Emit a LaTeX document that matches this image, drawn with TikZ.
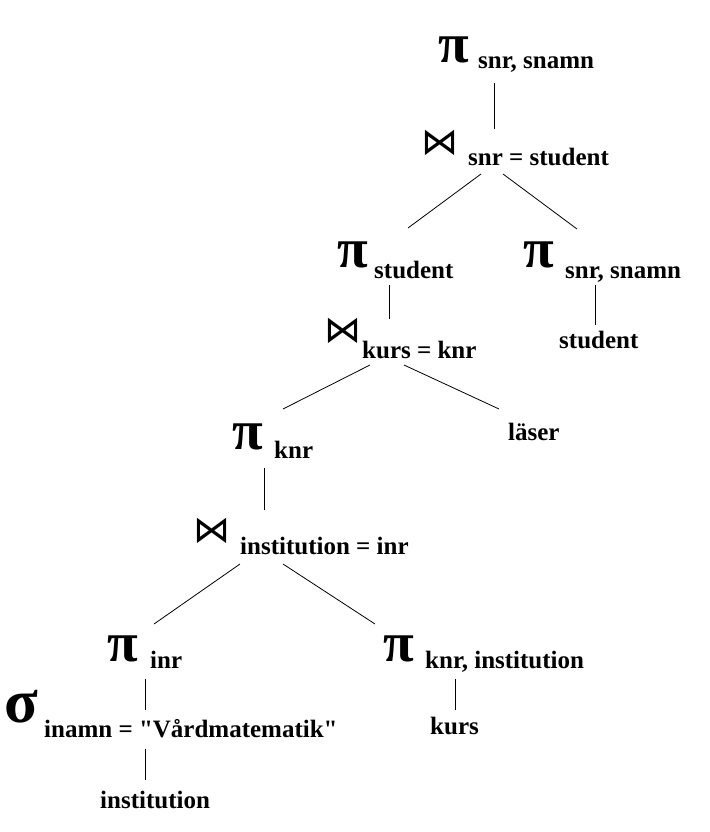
\documentclass[tikz,border=0pt]{standalone}
\usepackage{fontspec}
\setmainfont{Liberation Serif}[Ligatures=TeXOff]
\newfontfamily\symfont{Liberation Serif}
\newfontfamily\djv{DejaVu Sans}
\begin{document}
\begin{tikzpicture}[x=1pt,y=-1pt,
  lbl/.style={anchor=base west,inner sep=0pt,font=\fontsize{25}{30}\selectfont\bfseries},
  pisym/.style={anchor=base west,inner sep=0pt,font=\fontsize{56}{60}\selectfont\symfont\bfseries},
  sigsym/.style={anchor=base west,inner sep=0pt,font=\fontsize{62}{66}\selectfont\symfont\bfseries},
  joinsym/.style={anchor=center,inner sep=0pt,font=\fontsize{37}{40}\selectfont\djv},
  edge/.style={line width=0.8pt}]
\useasboundingbox (0,0) rectangle (709,832);
\node[pisym] (p1s) at (438,63) {π};
\node[lbl] (p1t) at (478,69) {snr, snamn};
\node[joinsym] (j1s) at (439.5,143) {⋈};
\node[lbl] (j1t) at (468,165) {snr = student};
\node[pisym] (p2s) at (337,267) {π};
\node[lbl] (p2t) at (374,278) {student};
\node[pisym] (p3s) at (523,267) {π};
\node[lbl] (p3t) at (565,278) {snr, snamn};
\node[lbl] (l1) at (559,348) {student};
\node[joinsym] (j2s) at (342.5,331) {⋈};
\node[lbl] (j2t) at (362,358) {kurs = knr};
\node[pisym] (p4s) at (232,449) {π};
\node[lbl] (p4t) at (274,458) {knr};
\node[lbl] (l2) at (508,440) {läser};
\node[joinsym] (j3s) at (212,531) {⋈};
\node[lbl] (j3t) at (240,554) {institution = inr};
\node[pisym] (p5s) at (107,661) {π};
\node[lbl] (p5t) at (150,668) {inr};
\node[pisym] (p6s) at (383,661) {π};
\node[lbl] (p6t) at (425,668) {knr, institution};
\node[sigsym] (s1s) at (4,722) {σ};
\node[lbl] (s1t) at (44,737) {inamn = "Vårdmatematik"};
\node[lbl] (l3) at (100,808) {institution};
\node[lbl] (l4) at (430,734) {kurs};
\coordinate (a1) at (494,83);  \coordinate (b1) at (494,129);
\coordinate (a2) at (481,174); \coordinate (b2) at (408,228);
\coordinate (a3) at (503,174); \coordinate (b3) at (577,229);
\coordinate (a4) at (389,285); \coordinate (b4) at (389,319);
\coordinate (a5) at (595,285); \coordinate (b5) at (595,325);
\coordinate (a6) at (370,365); \coordinate (b6) at (283,409);
\coordinate (a7) at (404,365); \coordinate (b7) at (499,409);
\coordinate (a8) at (264,468); \coordinate (b8) at (264,510);
\coordinate (a9) at (240,564); \coordinate (b9) at (154,624);
\coordinate (a10) at (283,564); \coordinate (b10) at (375,624);
\coordinate (a11) at (145,679); \coordinate (b11) at (145,710);
\coordinate (a12) at (455,679); \coordinate (b12) at (455,710);
\coordinate (a13) at (145,749); \coordinate (b13) at (145,780);
\foreach \i in {1,...,13} \draw[edge] (a\i) -- (b\i);
\end{tikzpicture}
\end{document}
